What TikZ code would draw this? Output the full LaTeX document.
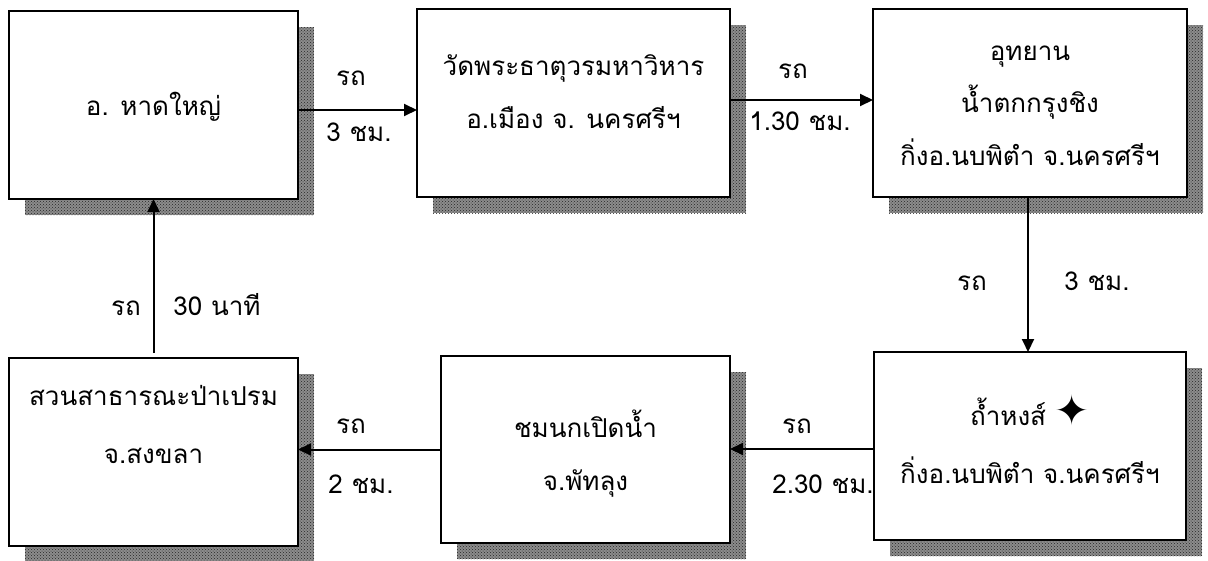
\documentclass[tikz,border=0pt]{standalone}
\usepackage{fontspec}
\setmainfont[Script=Thai]{Loma}
\newfontfamily\symfont{DejaVu Sans}
\usetikzlibrary{arrows.meta,patterns}
\tikzset{
  box/.style={draw, line width=2.5pt, fill=white, outer sep=0pt, inner sep=0pt},
  shadowbox/.style={fill=black!45, draw=none},
  shadowdots/.style={pattern=crosshatch dots, pattern color=black!85, draw=none},
  arr/.style={line width=2pt, -{Triangle[length=13pt,width=12pt]}},
  lbl/.style={anchor=base, font=\fontsize{26}{32}\selectfont, inner sep=0pt},
  txt/.style={anchor=base, align=center, inner sep=0pt},
}
\newcommand{\shadowrect}[4]{%
  \fill[shadowbox] (#1+16,#2+16) rectangle (#3+16,#4+16);
  \fill[shadowdots] (#1+16,#2+16) rectangle (#3+16,#4+16);}
\begin{document}
\begin{tikzpicture}[x=1pt,y=-1pt]
\useasboundingbox (0,0) rectangle (1208,560);
% shadows
\shadowrect{9}{11}{298}{199}
\shadowrect{417}{9}{730}{197}
\shadowrect{873}{9}{1187}{197}
\shadowrect{874}{352}{1186}{540}
\shadowrect{441}{356}{730}{543}
\shadowrect{9}{358}{298}{546}
% boxes
\node[box, minimum width=289pt, minimum height=188pt] (b1) at (153.5,105) {};
\node[box, minimum width=313pt, minimum height=188pt] (b2) at (573.5,103) {};
\node[box, minimum width=314pt, minimum height=188pt] (b3) at (1030,103) {};
\node[box, minimum width=312pt, minimum height=188pt] (b4) at (1030,446) {};
\node[box, minimum width=289pt, minimum height=187pt] (b5) at (585.5,449.5) {};
\node[box, minimum width=289pt, minimum height=188pt] (b6) at (153.5,452) {};
% box texts (anchor base = baseline of the last line)
\node[txt, font=\fontsize{26}{53}\selectfont] (t1) at (153.5,115) {อ. หาดใหญ่};
\node[txt, font=\fontsize{26}{53}\selectfont] (t2) at (573.5,128) {วัดพระธาตุวรมหาวิหาร\\อ.เมือง จ. นครศรีฯ};
\node[txt, font=\fontsize{26}{52.5}\selectfont] (t3) at (1030,165) {อุทยาน\\น้ำตกกรุงชิง\\กิ่งอ.นบพิตำ จ.นครศรีฯ};
\node[txt, font=\fontsize{26}{58}\selectfont] (t4) at (1030,483) {ถ้ำหงส์ {\symfont\fontsize{42}{42}\selectfont ✦}\\กิ่งอ.นบพิตำ จ.นครศรีฯ};
\node[txt, font=\fontsize{26}{53}\selectfont] (t5) at (585.5,490) {ชมนกเปิดน้ำ\\จ.พัทลุง};
\node[txt, font=\fontsize{26}{58}\selectfont] (t6) at (153.5,463) {สวนสาธารณะป่าเปรม\\จ.สงขลา};
% connectors
\path (b1.east) ++(0,5) coordinate (p12);
\draw[arr] (p12) -- (p12 -| b2.west);
\path (b2.east) ++(0,-3) coordinate (p23);
\draw[arr] (p23) -- (p23 -| b3.west);
\path (b3.south) ++(-2,0) coordinate (p34);
\draw[arr] (p34) -- (p34 |- b4.north);
\path (b4.west) ++(0,3) coordinate (p45);
\draw[arr] (p45) -- (p45 -| b5.east);
\path (b5.west) coordinate (p56);
\draw[arr] (p56) -- (p56 -| b6.east);
\path (b6.north) ++(0,-5) coordinate (p61);
\draw[arr] (p61) -- (p61 |- b1.south);
% connector labels
\node[lbl] (l12a) at (351,85) {รถ};
\node[lbl] (l12b) at (359,141) {3 ชม.};
\node[lbl] (l23a) at (793,78) {รถ};
\node[lbl] (l23b) at (800,130) {1.30 ชม.};
\node[lbl] (l34a) at (972,290) {รถ};
\node[lbl] (l34b) at (1097,290) {3 ชม.};
\node[lbl] (l45a) at (797,433) {รถ};
\node[lbl] (l45b) at (823,493) {2.30 ชม.};
\node[lbl] (l56a) at (351,433) {รถ};
\node[lbl] (l56b) at (361,493) {2 ชม.};
\node[lbl] (l61a) at (126,315) {รถ};
\node[lbl] (l61b) at (217,315) {30 นาที};
\end{tikzpicture}
\end{document}
